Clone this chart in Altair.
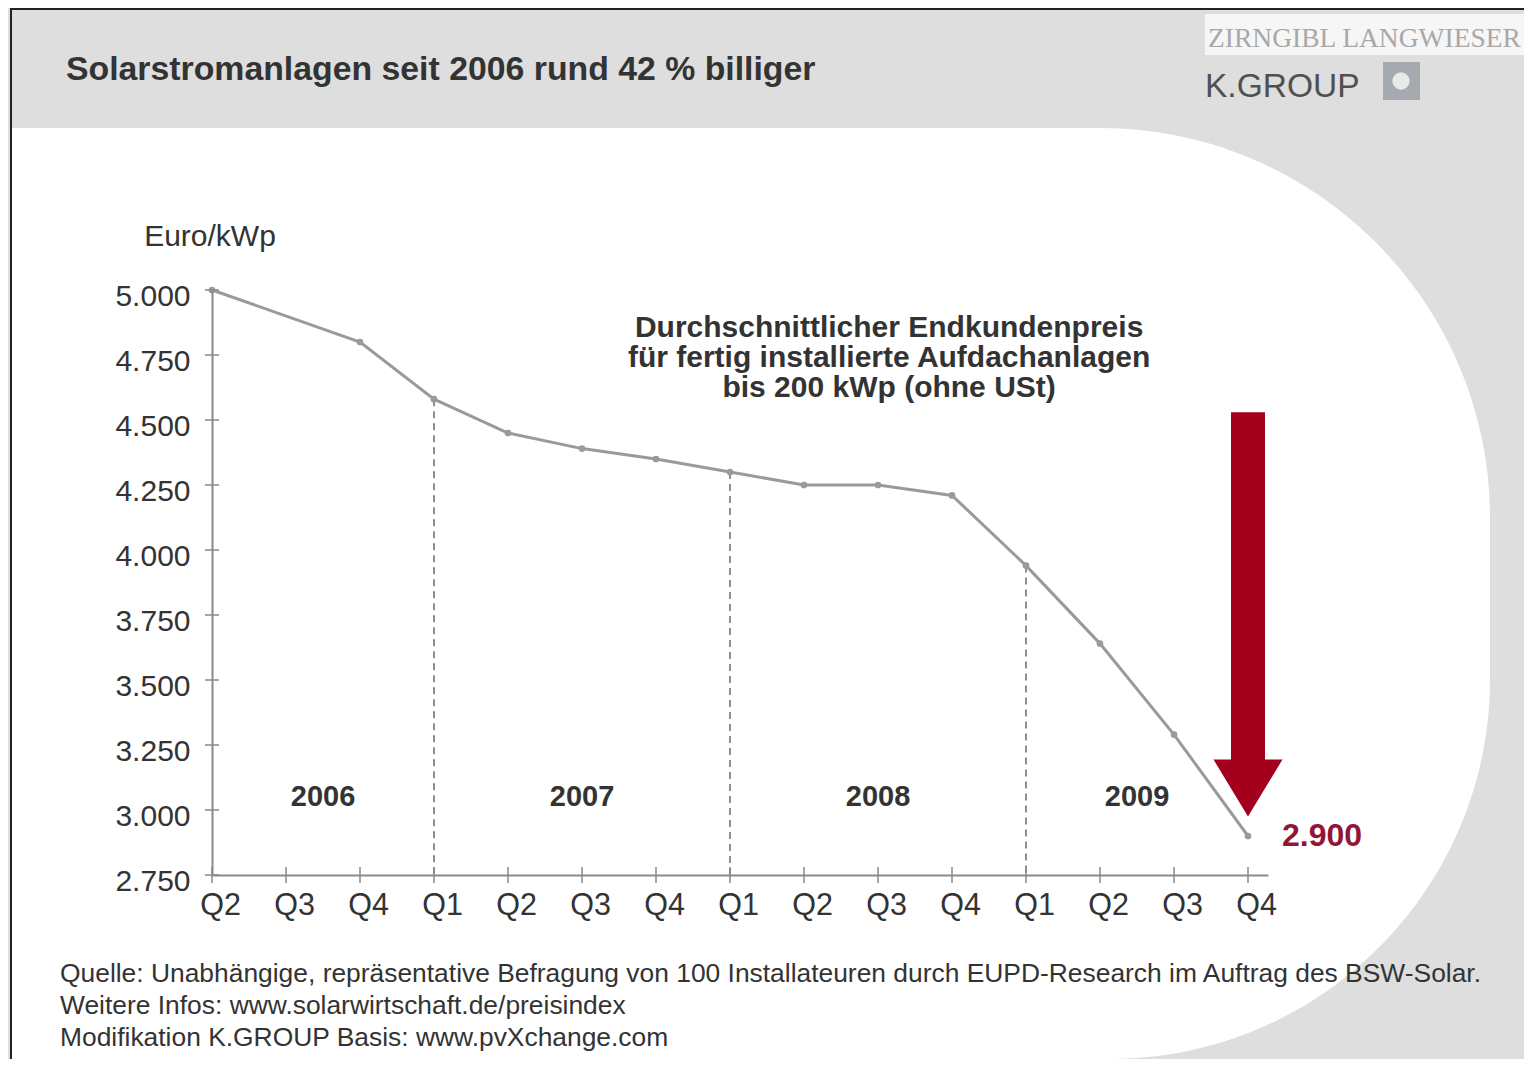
import altair as alt
import pandas as pd

# ------------------------------------------------------------------ data
quarters = ["Q2", "Q3", "Q4", "Q1", "Q2", "Q3", "Q4", "Q1", "Q2", "Q3", "Q4", "Q1", "Q2", "Q3", "Q4"]
years = [2006, 2006, 2006, 2007, 2007, 2007, 2007, 2008, 2008, 2008, 2008, 2009, 2009, 2009, 2009]
prices = [5000, None, 4800, 4580, 4450, 4390, 4350, 4300, 4250, 4250, 4210, 3940, 3640, 3290, 2900]
y_ticks = [2750, 3000, 3250, 3500, 3750, 4000, 4250, 4500, 4750, 5000]

title_text = "Solarstromanlagen seit 2006 rund 42 % billiger"
unit_text = "Euro/kWp"
note_lines = [
    "Durchschnittlicher Endkundenpreis",
    "für fertig installierte Aufdachanlagen",
    "bis 200 kWp (ohne USt)",
]
source_lines = [
    "Quelle: Unabhängige, repräsentative Befragung von 100 Installateuren durch EUPD-Research im Auftrag des BSW-Solar.",
    "Weitere Infos: www.solarwirtschaft.de/preisindex",
    "Modifikation K.GROUP Basis: www.pvXchange.com",
]
logo_top = "ZIRNGIBL LANGWIESER"
logo_main = "K.GROUP"

# ------------------------------------------------------------------ layout / style
FONT = "Liberation Sans"
SERIF = "Liberation Serif"
TEXT = "#333333"
GRAY_BG = "#DEDEDE"
LINE_GRAY = "#9A9A9A"
AXIS_GRAY = "#8A8A8A"
RED = "#A3001E"
RED_TEXT = "#931536"

PLOT_X0, PLOT_Y0 = 212, 290          # screen position of plot origin
PAGE = 8                              # page margin
W, H = 1056, 585                      # plot area
CANVAS_W, CANVAS_H = 1516, 1051
PX_PER_IDX = 74.0
X_MAX = W / PX_PER_IDX
Y_MIN, Y_MAX = 2750, 5000
PX_PER_VAL = H / (Y_MAX - Y_MIN)


def sx(v):
    return v - PLOT_X0


def sy(v):
    return v - PLOT_Y0


df = pd.DataFrame({"idx": list(range(len(quarters))), "quarter": quarters,
                   "year": years, "price": prices})
pts = df.dropna().copy()
pts["label"] = pts["price"].map(lambda v: f"{int(v):,}".replace(",", "."))
q1 = pts[pts["quarter"] == "Q1"]
last = pts.tail(1)

# year labels centred between year boundaries (Q1 positions)
bounds = [0] + list(q1["idx"]) + [len(quarters) - 1]
year_df = pd.DataFrame({
    "idx": [(bounds[i] + bounds[i + 1]) / 2 for i in range(len(bounds) - 1)],
    "price": [3050] * (len(bounds) - 1),
    "year": [str(y) for y in sorted(set(years))],
})
tick_x_df = pd.DataFrame({"idx": list(range(len(quarters)))})
tick_y_df = pd.DataFrame({"price": y_ticks})

xs = alt.Scale(domain=[0, X_MAX], nice=False, zero=False)
ys = alt.Scale(domain=[Y_MIN, Y_MAX], nice=False, zero=False)

q_expr = "[" + ",".join(f"'{q}'" for q in quarters) + "][datum.value]"
x_axis = alt.Axis(values=list(range(len(quarters))), labelExpr=q_expr, ticks=False,
                  domainColor=AXIS_GRAY, domainWidth=2, grid=False, title=None,
                  labelFont=FONT, labelFontSize=30.5, labelColor=TEXT, labelPadding=15,
                  labelOffset=8, labelFlush=False, labelOverlap=False, zindex=1)
y_axis = alt.Axis(values=y_ticks, labelExpr="replace(format(datum.value, ','), ',', '.')",
                  ticks=False, domainColor=AXIS_GRAY, domainWidth=2, grid=False, title=None,
                  labelFont=FONT, labelFontSize=30, labelColor=TEXT, labelPadding=22,
                  labelOffset=6, labelFlush=False, labelOverlap=False, zindex=1)


def X(field="idx"):
    return alt.X(f"{field}:Q", scale=xs, axis=x_axis, title=None)


def Y(field="price"):
    return alt.Y(f"{field}:Q", scale=ys, axis=y_axis, title=None)


one = pd.DataFrame({"k": [0]})

# ------------------------------------------------------------------ decorations
bg_shape = alt.Chart(one).mark_rect(
    color="white", cornerRadiusTopRight=390, cornerRadiusBottomRight=380
).encode(x=alt.value(sx(11)), x2=alt.value(sx(1490)),
         y=alt.value(sy(128)), y2=alt.value(sy(PAGE + CANVAS_H)))

border_top = alt.Chart(one).mark_rule(color="#222222", strokeWidth=2).encode(
    x=alt.value(sx(10)), x2=alt.value(sx(PAGE + CANVAS_W)), y=alt.value(sy(PAGE + 1)))
border_left = alt.Chart(one).mark_rule(color="#222222", strokeWidth=2).encode(
    x=alt.value(sx(11)), y=alt.value(sy(PAGE)), y2=alt.value(sy(PAGE + CANVAS_H)))

logo_box = alt.Chart(one).mark_rect(color="#F6F6F6").encode(
    x=alt.value(sx(1205)), x2=alt.value(sx(PAGE + CANVAS_W)),
    y=alt.value(sy(14)), y2=alt.value(sy(55)))
logo_t1 = alt.Chart(one).mark_text(
    text=logo_top, font=SERIF, fontSize=27.5, color="#A8A8A8", align="left", baseline="alphabetic"
).encode(x=alt.value(sx(1208)), y=alt.value(sy(47)))
logo_t2 = alt.Chart(one).mark_text(
    text=logo_main, font=FONT, fontSize=33.5, color="#505050", align="left", baseline="alphabetic"
).encode(x=alt.value(sx(1205)), y=alt.value(sy(97)))
logo_icon = alt.Chart(one).mark_rect(color="#A4AAB0").encode(
    x=alt.value(sx(1383)), x2=alt.value(sx(1420)), y=alt.value(sy(62)), y2=alt.value(sy(100)))
logo_icon2 = alt.Chart(one).mark_point(
    shape="circle", size=300, color="#F0F0F0", filled=True, opacity=0.9
).encode(x=alt.value(sx(1401)), y=alt.value(sy(81)))

title = alt.Chart(one).mark_text(
    text=title_text, font=FONT, fontSize=33.8, fontWeight="bold", color=TEXT,
    align="left", baseline="alphabetic"
).encode(x=alt.value(sx(66)), y=alt.value(sy(80)))

unit = alt.Chart(one).mark_text(
    text=unit_text, font=FONT, fontSize=30, color=TEXT, align="center", baseline="middle"
).encode(x=alt.value(sx(210)), y=alt.value(sy(237)))

footer = alt.Chart(one).mark_text(
    text="\n".join(source_lines), lineBreak="\n", lineHeight=32, font=FONT, fontSize=26.4,
    color=TEXT, align="left", baseline="alphabetic"
).encode(x=alt.value(sx(60)), y=alt.value(sy(982)))

# ------------------------------------------------------------------ data marks
dashed = alt.Chart(q1).mark_rule(color="#555555", strokeWidth=1.3, strokeDash=[7, 5]).encode(
    x=X(), y=Y(), y2=alt.datum(Y_MIN))

line = alt.Chart(pts).mark_line(color=LINE_GRAY, strokeWidth=3).encode(x=X(), y=Y())
points = alt.Chart(pts).mark_circle(color=LINE_GRAY, size=45, opacity=1).encode(x=X(), y=Y())

ticks_x = alt.Chart(tick_x_df).mark_tick(orient="vertical", size=16, thickness=1.5,
                                         color=AXIS_GRAY, opacity=1).encode(
    x=X(), y=alt.value(H))
ticks_y = alt.Chart(tick_y_df).mark_tick(orient="horizontal", size=14, thickness=1.5,
                                         color=AXIS_GRAY, opacity=1).encode(
    y=Y(), x=alt.value(0))

year_text = alt.Chart(year_df).mark_text(
    font=FONT, fontSize=29, fontWeight="bold", color=TEXT, baseline="middle", align="center"
).encode(x=X(), y=Y(), text="year:N")

# first line of the note sits at this value; further lines follow below
note = alt.Chart(pd.DataFrame({"idx": [9.15], "price": [4854]})).mark_text(
    text="\n".join(note_lines), lineBreak="\n", lineHeight=30, font=FONT, fontSize=30,
    fontWeight="bold", color=TEXT, align="center", baseline="middle"
).encode(x=X(), y=Y())

# red arrow (shaft + head) as one custom symbol anchored on the last quarter
ARROW_TOP, ARROW_TIP = 4530, 2975
L = (ARROW_TOP - ARROW_TIP) * PX_PER_VAL
half = L / 2
sw, hw, hb = 17 / half, 34.5 / half, 1 - 2 * 57 / L
arrow_path = (f"M {-sw:.4f} -1 L {sw:.4f} -1 L {sw:.4f} {hb:.4f} L {hw:.4f} {hb:.4f} "
              f"L 0 1 L {-hw:.4f} {hb:.4f} L {-sw:.4f} {hb:.4f} Z")
arrow_df = pd.DataFrame({"idx": [len(quarters) - 1], "price": [(ARROW_TOP + ARROW_TIP) / 2]})
arrow = alt.Chart(arrow_df).mark_point(
    shape=arrow_path, size=L * L, filled=True, color=RED, opacity=1, strokeWidth=0
).encode(x=X(), y=Y())

value_label = alt.Chart(last).mark_text(
    font=FONT, fontSize=32, fontWeight="bold", color=RED_TEXT, align="left",
    baseline="middle", dx=34
).encode(x=X(), y=Y(), text="label:N")

chart = alt.layer(
    bg_shape, border_top, border_left, logo_box, logo_t1, logo_t2, logo_icon, logo_icon2,
    title, unit, footer, dashed, line, points, ticks_x, ticks_y, year_text, note,
    arrow, value_label,
).properties(
    width=W, height=H,
    padding={"left": PLOT_X0 - PAGE, "top": PLOT_Y0 - PAGE,
             "right": CANVAS_W - (PLOT_X0 - PAGE) - W,
             "bottom": CANVAS_H - (PLOT_Y0 - PAGE) - H},
    autosize=alt.AutoSizeParams(type="none"),
    background=GRAY_BG,
).configure_view(stroke=None)

chart.save("out.html", embed_options={"renderer": "svg", "actions": False})
